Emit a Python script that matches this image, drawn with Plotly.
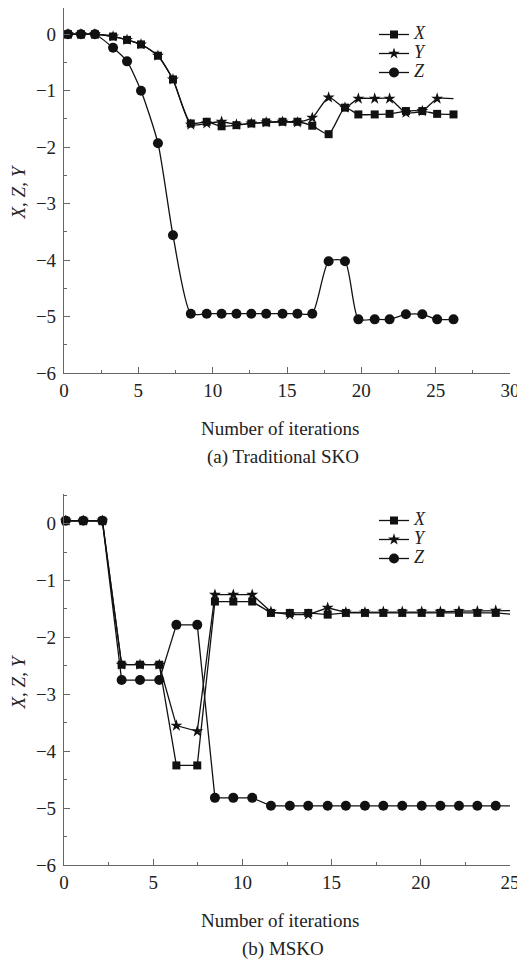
import plotly.graph_objects as go

W, H = 527, 965
OFF = 8  # default page body margin shifts the figure by 8 px

# ---------------- (a) Traditional SKO ----------------
iter_a = [0.27, 1.14, 2.08, 3.3, 4.24, 5.18, 6.32, 7.33, 8.53, 9.6, 10.6, 11.6, 12.6,
          13.6, 14.7, 15.7, 16.7, 17.8, 18.9, 19.8, 20.9, 21.9, 23.0, 24.1, 25.1, 26.2]
X_a = [0, 0, 0, -0.04, -0.1, -0.18, -0.38, -0.8, -1.58, -1.55, -1.63, -1.61, -1.58,
       -1.56, -1.55, -1.55, -1.62, -1.77, -1.30, -1.42, -1.42, -1.41, -1.36, -1.36, -1.41, -1.42]
Y_a = [0, 0, 0, -0.04, -0.1, -0.18, -0.38, -0.8, -1.6, -1.58, -1.55, -1.6, -1.58,
       -1.56, -1.55, -1.56, -1.48, -1.12, -1.30, -1.14, -1.14, -1.14, -1.39, -1.36, -1.14, -1.14]
Z_a = [0, 0, 0, -0.24, -0.48, -1.0, -1.93, -3.56, -4.95, -4.95, -4.95, -4.95, -4.95,
       -4.95, -4.95, -4.95, -4.95, -4.02, -4.02, -5.05, -5.05, -5.05, -4.96, -4.96, -5.05, -5.05]

# ---------------- (b) MSKO ----------------
iter_b = [0.1, 1.08, 2.15, 3.23, 4.26, 5.34, 6.3, 7.47, 8.46, 9.49, 10.55, 11.6, 12.66,
          13.69, 14.78, 15.8, 16.87, 17.9, 18.96, 20.05, 21.1, 22.14, 23.17, 24.2, 25.3]
X_b = [0.05, 0.05, 0.05, -2.48, -2.48, -2.48, -4.25, -4.25, -1.37, -1.37, -1.37, -1.57, -1.57,
       -1.57, -1.6, -1.57, -1.57, -1.57, -1.57, -1.57, -1.57, -1.57, -1.57, -1.57, -1.6]
Y_b = [0.05, 0.05, 0.05, -2.48, -2.48, -2.48, -3.55, -3.65, -1.25, -1.25, -1.25, -1.55, -1.6,
       -1.6, -1.48, -1.56, -1.56, -1.55, -1.55, -1.55, -1.55, -1.54, -1.54, -1.53, -1.53]
Z_b = [0.05, 0.05, 0.05, -2.75, -2.75, -2.75, -1.78, -1.78, -4.82, -4.82, -4.82, -4.96, -4.96,
       -4.96, -4.96, -4.96, -4.96, -4.96, -4.96, -4.96, -4.96, -4.96, -4.96, -4.96, -4.96]

series_labels = ["X", "Y", "Z"]
symbols = ["square", "star", "circle"]
msizes = [8, 9, 10]

SERIF = "Liberation Serif"
INK = "#111"
AX = "#666"
FS = 19


def fx(px):
    return (px - OFF) / W


def fy(py):
    return min(1.0, max(0.0, 1 - (py - OFF) / H))


def leg_name(s):
    return '<span style="font-size:18px"><i>%s</i></span>' % s


fig = go.Figure()

for lab, ys, sym, ms in zip(series_labels, [X_a, Y_a, Z_a], symbols, msizes):
    size = ms
    if lab == "Y":
        size = [ms] * (len(ys) - 1) + [0]  # last Y point has no visible marker
    fig.add_trace(go.Scatter(
        x=iter_a, y=ys, name=leg_name(lab), mode="lines+markers",
        line=dict(color=INK, width=1.3, shape="spline", smoothing=0.6),
        marker=dict(symbol=sym, size=size, color=INK, opacity=1, line=dict(width=0)),
        xaxis="x", yaxis="y", legend="legend"))

for lab, ys, sym, ms in zip(series_labels, [X_b, Y_b, Z_b], symbols, msizes):
    fig.add_trace(go.Scatter(
        x=iter_b, y=ys, name=leg_name(lab), mode="lines+markers",
        line=dict(color=INK, width=1.3),
        marker=dict(symbol=sym, size=ms, color=INK, opacity=1, line=dict(width=0)),
        xaxis="x2", yaxis="y2", legend="legend2", cliponaxis=False))


def xax(rng, dom_anchor):
    return dict(domain=[fx(64), fx(510)], range=rng, anchor=dom_anchor, automargin=False,
                showline=True, linecolor=AX, linewidth=1.2, mirror=False,
                ticks="inside", ticklen=6, tickwidth=1.2, tickcolor=AX, dtick=5, tick0=0,
                minor=dict(ticks="inside", ticklen=3, tickcolor=AX, dtick=2.5),
                showgrid=False, zeroline=False,
                tickfont=dict(family=SERIF, size=FS, color="#222"))


def yax(top, bot, ytop, dom_anchor):
    return dict(domain=[fy(bot), fy(top)], range=[-6, ytop], anchor=dom_anchor, automargin=False,
                showline=True, linecolor=AX, linewidth=1.2,
                ticks="inside", ticklen=6, tickwidth=1.2, tickcolor=AX, dtick=1, tick0=0,
                minor=dict(ticks="inside", ticklen=3, tickcolor=AX, dtick=0.5),
                showgrid=False, zeroline=False, ticklabelstandoff=3,
                tickfont=dict(family=SERIF, size=FS, color="#222"))


a_top, a_bot = 8, 373      # top of panel (a) limited by page edge
b_top, b_bot = 494, 865

leg_font = dict(family=SERIF, size=10.5, color="#222")
fig.update_layout(
    width=W, height=H, margin=dict(l=0, r=0, t=0, b=0, autoexpand=False),
    paper_bgcolor="white", plot_bgcolor="white",
    font=dict(family=SERIF, color="#222"),
    xaxis=xax([0, 30], "y"),
    yaxis=yax(a_top, a_bot, 0.465, "x"),
    xaxis2=xax([0, 25], "y2"),
    yaxis2=yax(b_top, b_bot, 0.52, "x2"),
    legend=dict(x=fx(374), y=fy(20), xanchor="left", yanchor="top",
                bgcolor="rgba(0,0,0,0)", font=leg_font, tracegroupgap=0),
    legend2=dict(x=fx(374), y=fy(506), xanchor="left", yanchor="top",
                 bgcolor="rgba(0,0,0,0)", font=leg_font, tracegroupgap=0),
    showlegend=True,
)

ann = []
for top, bot, cap in [(6, a_bot, "(a) Traditional SKO"), (b_top, b_bot, "(b) MSKO")]:
    ann.append(dict(text="<i>X</i>, <i>Z</i>, <i>Y</i>", x=fx(18), y=fy((top + bot) / 2 + 3),
                    xref="paper", yref="paper", xanchor="center", yanchor="middle",
                    textangle=-90, showarrow=False,
                    font=dict(family=SERIF, size=FS, color="#222")))
    ann.append(dict(text="Number of iterations", x=fx(280), y=fy(bot + 55),
                    xref="paper", yref="paper", xanchor="center", yanchor="middle",
                    showarrow=False, font=dict(family=SERIF, size=FS, color="#222")))
    ann.append(dict(text=cap, x=fx(283), y=fy(bot + 84),
                    xref="paper", yref="paper", xanchor="center", yanchor="middle",
                    showarrow=False, font=dict(family=SERIF, size=FS, color="#222")))
fig.update_layout(annotations=ann)

# right edge of the original picture is cropped
fig.add_shape(type="rect", xref="paper", yref="paper", x0=fx(517), x1=1.05, y0=-0.05, y1=1.05,
              fillcolor="white", line=dict(width=0), layer="above")

fig.write_html("out.html")
